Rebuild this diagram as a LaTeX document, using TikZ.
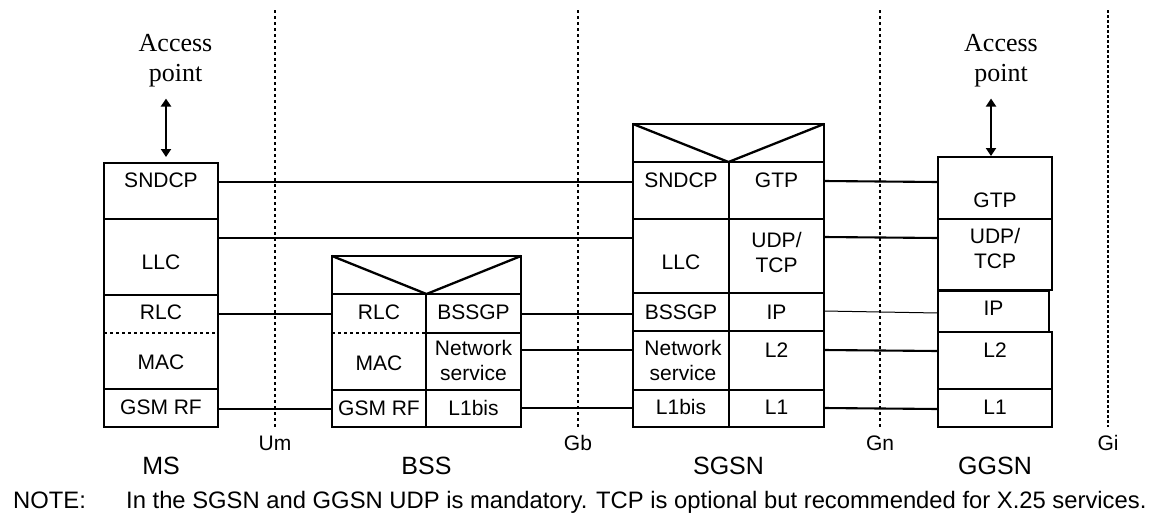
\documentclass[tikz,border=0pt]{standalone}
\usepackage{fontspec}
\setmainfont{Liberation Sans}
\newfontfamily\tmsfont{Liberation Serif}
\usetikzlibrary{arrows.meta}
\newcommand\cellbox[5]{\node[cell, minimum width=#4pt, minimum height=#5pt] (#1) at (#2,#3) {};}
\begin{document}
\begin{tikzpicture}[x=1pt,y=-1pt,
  cell/.style={draw, line width=2.3pt, inner sep=0pt, outer sep=0pt, anchor=north west},
  txt/.style={font=\fontsize{21}{25}\selectfont, inner sep=0pt, align=center},
  lbl/.style={font=\fontsize{25}{30}\selectfont, inner sep=0pt},
  ifc/.style={font=\fontsize{21}{25}\selectfont, inner sep=0pt},
  notetxt/.style={font=\fontsize{23.8}{28}\selectfont, inner sep=0pt, anchor=base west},
  link/.style={line width=2.1pt},
  thinlink/.style={line width=1pt},
  refline/.style={line width=2.2pt, dash pattern=on 3pt off 3pt},
  refthin/.style={line width=1.1pt, dash pattern=on 3pt off 2pt},
  sepline/.style={line width=1.8pt, dash pattern=on 3pt off 3pt},
  apt/.style={font=\tmsfont\fontsize{26}{30}\selectfont, inner sep=0pt, align=center},
  aparrow/.style={line width=2pt, {Triangle[length=8pt,width=10pt]}-{Triangle[length=8pt,width=10pt]}}
]
\useasboundingbox (0,0) rectangle (1154,512);

% reference points
\coordinate (umTop) at (275,10);  \coordinate (umBot) at (275,427);
\coordinate (gbTop) at (578,10);  \coordinate (gbBot) at (578,427);
\coordinate (gnTop) at (880,10);  \coordinate (gnBot) at (880,427);
\coordinate (giTop) at (1108,10); \coordinate (giBot) at (1108,427);
\draw[refline] (umTop) -- (umBot);
\draw[refline] (gbTop) -- (gbBot);
\draw[refline] (gnTop) -- (gnBot);
\draw[refthin] (giTop) -- (giBot);
\node[ifc] (um) at (275,443) {Um};
\node[ifc] (gb) at (578,443) {Gb};
\node[ifc] (gn) at (880,443) {Gn};
\node[ifc] (gi) at (1108,443) {Gi};

% MS
\cellbox{msSNDCP}{104}{163}{114}{56}
\cellbox{msLLC}{104}{219}{114}{76}
\cellbox{msRLCMAC}{104}{295}{114}{94}
\cellbox{msRF}{104}{389}{114}{38}
\draw[sepline] (msRLCMAC.west |- 0,333) -- (msRLCMAC.east |- 0,333);
\node[txt] (tmsSNDCP) at (161,180) {SNDCP};
\node[txt] (tmsLLC) at (161,262) {LLC};
\node[txt] (tmsRLC) at (161,312) {RLC};
\node[txt] (tmsMAC) at (161,362) {MAC};
\node[txt] (tmsRF) at (161,407) {GSM RF};

% BSS
\cellbox{bssTop}{332}{256}{189}{38}
\cellbox{bssRLCMAC}{332}{294}{94}{96}
\cellbox{bssBSSGP}{426}{294}{95}{39}
\cellbox{bssNS}{426}{333}{95}{57}
\cellbox{bssRF}{332}{390}{94}{37}
\cellbox{bssL1}{426}{390}{95}{37}
\draw[line width=2.3pt] (bssTop.north west) -- (bssTop.south) -- (bssTop.north east);
\draw[sepline] (bssRLCMAC.west |- 0,333) -- (bssRLCMAC.east |- 0,333);
\node[txt] (tbssRLC) at (379,312) {RLC};
\node[txt] (tbssMAC) at (379,363) {MAC};
\node[txt] (tbssRF) at (379,408) {GSM RF};
\node[txt] (tbssBSSGP) at (473.5,312) {BSSGP};
\node[txt] (tbssNS) at (473.5,360.5) {Network\\service};
\node[txt] (tbssL1) at (473.5,408) {L1bis};

% SGSN
\cellbox{sgTop}{633}{124}{191}{38}
\cellbox{sgSNDCP}{633}{162}{96}{57}
\cellbox{sgGTP}{729}{162}{95}{57}
\cellbox{sgLLC}{633}{219}{96}{74}
\cellbox{sgUDP}{729}{219}{95}{74}
\cellbox{sgBSSGP}{633}{293}{96}{38}
\cellbox{sgIP}{729}{293}{95}{38}
\cellbox{sgNS}{633}{331}{96}{59}
\cellbox{sgL2}{729}{331}{95}{59}
\cellbox{sgL1bis}{633}{390}{96}{37}
\cellbox{sgL1}{729}{390}{95}{37}
\draw[line width=2.3pt] (sgTop.north west) -- (sgTop.south) -- (sgTop.north east);
\node[txt] (tsgSNDCP) at (681,180) {SNDCP};
\node[txt] (tsgGTP) at (776.5,180) {GTP};
\node[txt] (tsgLLC) at (681,262) {LLC};
\node[txt] (tsgUDP) at (776.5,252) {UDP/\\TCP};
\node[txt] (tsgBSSGP) at (681,312) {BSSGP};
\node[txt] (tsgIP) at (776.5,312) {IP};
\node[txt] (tsgNS) at (683,360.5) {Network\\service};
\node[txt] (tsgL2) at (776.5,350) {L2};
\node[txt] (tsgL1bis) at (681,407) {L1bis};
\node[txt] (tsgL1) at (776.5,407) {L1};

% GGSN
\cellbox{ggGTP}{938}{157}{114}{62}
\cellbox{ggUDP}{938}{219}{114}{71}
\cellbox{ggIP}{938}{291}{111}{41}
\cellbox{ggL2}{938}{332}{114}{57}
\cellbox{ggL1}{938}{389}{114}{38}
\node[txt] (tggGTP) at (995,200) {GTP};
\node[txt] (tggUDP) at (995,248.5) {UDP/\\TCP};
\node[txt] (tggIP) at (993.5,308) {IP};
\node[txt] (tggL2) at (995,350) {L2};
\node[txt] (tggL1) at (995,407) {L1};

% connectors
\draw[link] (msSNDCP.east |- 0,182) -- (sgSNDCP.west |- 0,182);
\draw[link] (msLLC.east |- 0,238) -- (sgLLC.west |- 0,238);
\draw[link] (msRLCMAC.east |- 0,314) -- (bssRLCMAC.west |- 0,314);
\draw[link] (msRF.east |- 0,409) -- (bssRF.west |- 0,409);
\draw[link] (bssBSSGP.east |- 0,314) -- (sgBSSGP.west |- 0,314);
\draw[link] (bssNS.east |- 0,350) -- (sgNS.west |- 0,350);
\draw[link] (bssL1.east |- 0,408) -- (sgL1bis.west |- 0,408);
\draw[link] (sgGTP.east |- 0,181) -- (ggGTP.west |- 0,182);
\draw[link] (sgUDP.east |- 0,237) -- (ggUDP.west |- 0,238);
\draw[thinlink] (sgIP.east |- 0,311) -- (ggIP.west |- 0,313);
\draw[link] (sgL2.east |- 0,350) -- (ggL2.west |- 0,351);
\draw[link] (sgL1.east |- 0,408) -- (ggL1.west |- 0,409);

% access points
\node[apt] (apMS) at (175.5,61) {Access\\point};
\node[apt] (apGG) at (1001,61) {Access\\point};
\draw[aparrow, shorten <=11pt, shorten >=6pt] (apMS.south -| 166,0) -- (msSNDCP.north -| 166,0);
\draw[aparrow, shorten <=11pt, shorten >=1pt] (apGG.south -| 991,0) -- (ggGTP.north -| 991,0);

% entity labels
\node[lbl] (lMS) at (msRF.south |- 0,466) {MS};
\node[lbl] (lBSS) at (bssTop.south |- 0,466) {BSS};
\node[lbl] (lSGSN) at (sgTop.south |- 0,466) {SGSN};
\node[lbl] (lGGSN) at (ggL1.south |- 0,466) {GGSN};

% note
\node[notetxt] (noteA) at (13,508) {NOTE:};
\node[notetxt] (noteB) at (126,508) {In the SGSN and GGSN UDP is mandatory. TCP is optional but recommended for X.25 services.};
\end{tikzpicture}
\end{document}
